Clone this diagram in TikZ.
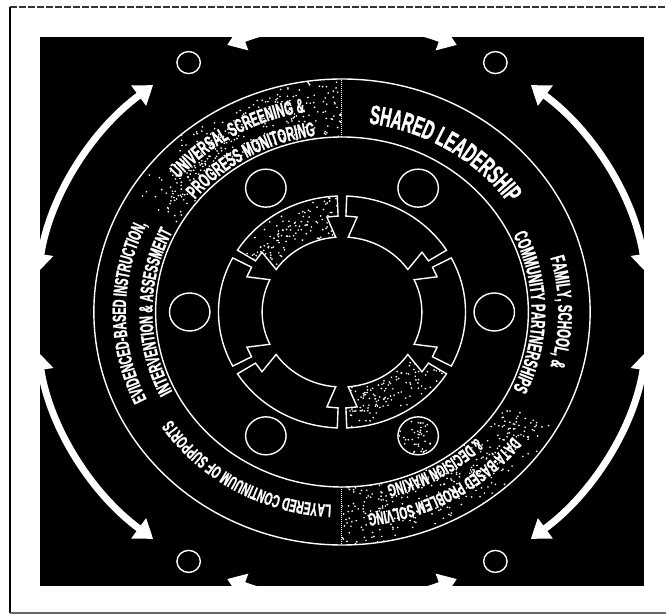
\documentclass[tikz,border=0pt]{standalone}
\usepackage{fontspec}
\usetikzlibrary{arrows.meta,decorations.text,calc}
\newfontfamily\ringfont{Liberation Sans}[FakeStretch=0.56, BoldFeatures={FakeBold=1.2}]

% one block of the inner ring, from the gap at #1 to the gap at #1+60
\newcommand{\ringblock}[1]{(#1+2.2:116) arc[start angle=#1+2.2, end angle=#1+57.8, radius=116] -- (#1+57.8:96) -- (#1+51.5:96) -- (#1+55.5:75) arc[start angle=#1+55.5, end angle=#1+4.5, radius=75] -- (#1+8.5:96) -- (#1+2.2:96) -- cycle}
% sector of the label band, from #1 to #1+60
\newcommand{\bandsector}[1]{(#1:175) -- (#1:233) arc[start angle=#1, end angle=#1+60, radius=233] -- (#1+60:175) arc[start angle=#1+60, end angle=#1, radius=175] -- cycle}
% curved label: centre angle, radius, size, text
\newcommand{\ringlabel}[4]{\path[decorate, decoration={text along path, text align=center, text color=white, text={|\ringfont\bfseries\fontsize{#3}{#3}\selectfont|#4}}] (#1+45:#2) arc[start angle=#1+45, end angle=#1-45, radius=#2];}

\begin{document}
\begin{tikzpicture}[x=1.065pt, y=1pt,
    ringline/.style={white, line width=1.4pt},
    bigarrow/.style={white, line width=7pt, {Triangle[width=24pt,length=18pt]}-{Triangle[width=24pt,length=18pt]}},
    speck/.style={white}]
    \useasboundingbox (-321.13,-303) rectangle (304.23,312);

    % scan border
    \draw[black!80, line width=1.6pt, dash pattern=on 7pt off 2pt] (-311.7,305) -- (304.23,305);
    \draw[black, line width=2pt] (-311.7,305) -- (-311.7,-301);
    \draw[black!60, line width=1.2pt] (-311.7,-301) -- (304.23,-301);

    % panel
    \fill[black] (-283.57,-274) rectangle (283.57,275);

    % outer arrows and circles
    \foreach \a in {0,60,...,300}
        \draw[bigarrow] (\a+8:288) arc[start angle=\a+8, end angle=\a+52, radius=288];
    \foreach \a/\r in {0/296,60/288,120/288,180/296,240/288,300/288}
        \draw[ringline] (\a:\r) circle[radius=11];

    % stippled parts
    \pgfmathsetseed{11}
    \foreach \s in {90,270}{
        \begin{scope}
            \clip \bandsector{\s};
            \foreach \i in {1,...,320}
                \fill[speck] ({\s+60*rnd}:{175+58*rnd}) circle[radius=0.9];
        \end{scope}
        \begin{scope}
            \clip \ringblock{\s};
            \foreach \i in {1,...,130}
                \fill[speck] ({\s+60*rnd}:{75+41*rnd}) circle[radius=0.9];
        \end{scope}
    }
    \begin{scope}
        \clip (300:143) circle[radius=19];
        \foreach \i in {1,...,40}
            \fill[speck] ($(300:143)+({360*rnd}:{19*rnd})$) circle[radius=0.9];
    \end{scope}

    % label band
    \draw[ringline] (0,0) circle[radius=233];
    \draw[ringline] (0,0) circle[radius=175];
    \draw[white, line width=1pt, densely dotted] (90:175) -- (90:233);
    \draw[white, line width=1pt, densely dotted] (270:175) -- (270:233);

    \ringlabel{120}{203}{20}{UNIVERSAL SCREENING {\&}}
    \ringlabel{120}{178}{20}{PROGRESS MONITORING}
    \ringlabel{58}{190}{27}{SHARED LEADERSHIP}
    \ringlabel{0}{203}{20}{FAMILY, SCHOOL, {\&}}
    \ringlabel{0}{178}{20}{COMMUNITY PARTNERSHIPS}
    \ringlabel{300}{203}{18}{DATA-BASED PROBLEM SOLVING}
    \ringlabel{300}{178}{18}{{\&} DECISION MAKING}
    \ringlabel{240}{193}{18}{LAYERED CONTINUUM OF SUPPORTS}
    \ringlabel{180}{203}{19}{EVIDENCED-BASED INSTRUCTION,}
    \ringlabel{180}{178}{19}{INTERVENTION {\&} ASSESSMENT}

    % inner circles and ring with arrows
    \foreach \a in {0,60,...,300}
        \draw[ringline] (\a:143) circle[radius=19];
    \foreach \g in {30,90,...,330}
        \draw[ringline] \ringblock{\g};
\end{tikzpicture}
\end{document}
